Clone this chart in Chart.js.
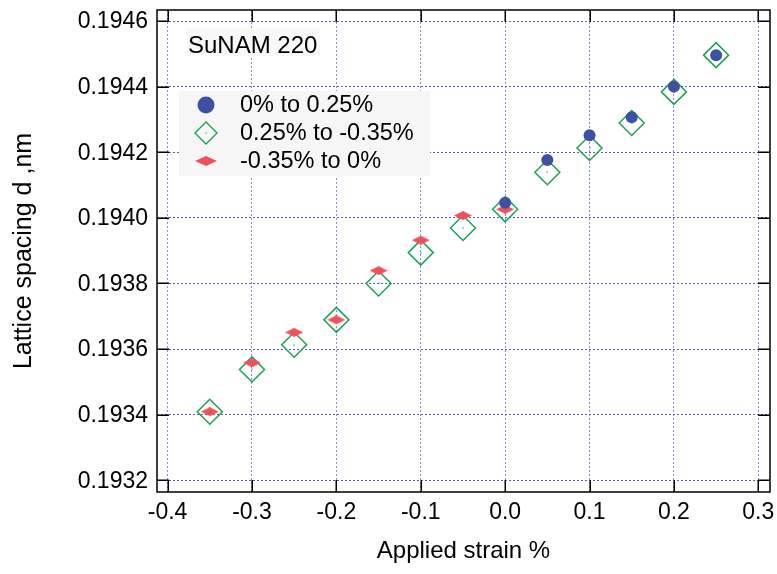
<!DOCTYPE html>
<html><head><meta charset="utf-8">
<script src="https://cdn.jsdelivr.net/npm/chart.js@4"></script>
<style>html,body{margin:0;padding:0;background:#fff}#c{display:block}</style>
</head><body>
<canvas id="c" width="777" height="574"></canvas>
<script>
// ---- data ----
const strainUp = [0, 0.05, 0.1, 0.15, 0.2, 0.25];
const spacingUp = [0.194046, 0.194176, 0.194252, 0.194307, 0.194400, 0.194496];
const strainDown = [0.25, 0.2, 0.15, 0.1, 0.05, 0, -0.05, -0.1, -0.15, -0.2, -0.25, -0.3, -0.35];
const spacingDown = [0.194496, 0.194384, 0.194289, 0.194213, 0.194139, 0.194026, 0.193969, 0.193894, 0.193800, 0.193689, 0.193613, 0.193538, 0.193409];
const strainBack = [-0.35, -0.3, -0.25, -0.2, -0.15, -0.1, -0.05, 0];
const spacingBack = [0.193409, 0.193558, 0.193651, 0.193689, 0.193839, 0.193932, 0.194007, 0.194026];
const seriesLabels = ['0% to 0.25%', '0.25% to -0.35%', '-0.35% to 0%'];
const xTicks = [-0.4, -0.3, -0.2, -0.1, 0, 0.1, 0.2, 0.3];
const xTickLabels = ['-0.4', '-0.3', '-0.2', '-0.1', '0.0', '0.1', '0.2', '0.3'];
const yTicks = [0.1932, 0.1934, 0.1936, 0.1938, 0.1940, 0.1942, 0.1944, 0.1946];
const yTickLabels = ['0.1932', '0.1934', '0.1936', '0.1938', '0.1940', '0.1942', '0.1944', '0.1946'];
const chartTitle = 'SuNAM 220';
const xTitle = 'Applied strain %';
const yTitle = 'Lattice spacing d ,nm';

const BLUE = '#3d50a2', GREEN = '#1fa055', RED = '#f04f5c';
const FONT = '"Liberation Sans", Arial, sans-serif';

function flatDiamond(w, h, color) {
  const c = document.createElement('canvas');
  c.width = w; c.height = h;
  const g = c.getContext('2d');
  g.fillStyle = color;
  g.beginPath();
  g.moveTo(0, h / 2); g.lineTo(w / 2, 0); g.lineTo(w, h / 2); g.lineTo(w / 2, h); g.closePath();
  g.fill();
  return c;
}
const redMark = flatDiamond(18, 9, RED);
const redLegend = flatDiamond(22, 10, RED);

const toPts = (xs, ys) => xs.map((x, i) => ({x: x, y: ys[i]}));

const decor = {
  id: 'decor',
  beforeDraw(chart) {
    const ctx = chart.ctx;
    ctx.save(); ctx.fillStyle = '#fff'; ctx.fillRect(0, 0, chart.width, chart.height); ctx.restore();
  },
  afterDatasetsDraw(chart) {
    const ctx = chart.ctx;
    const meta = chart.getDatasetMeta(2);
    ctx.save();
    ctx.fillStyle = GREEN;
    meta.data.forEach(p => ctx.fillRect(Math.round(p.x) - 0.5, Math.round(p.y) - 0.5, 1.2, 1.2));
    ctx.restore();
  },
  afterDraw(chart) {
    const ctx = chart.ctx, a = chart.chartArea;
    const xs = chart.scales.x, ys = chart.scales.y;
    ctx.save();
    // frame
    ctx.strokeStyle = '#000'; ctx.lineWidth = 1.5;
    ctx.strokeRect(a.left, a.top, a.right - a.left, a.bottom - a.top);
    // inward ticks
    ctx.beginPath();
    xTicks.forEach(v => {
      const px = Math.round(xs.getPixelForValue(v)) + 0.25;
      ctx.moveTo(px, a.bottom); ctx.lineTo(px, a.bottom - 12);
      ctx.moveTo(px, a.top); ctx.lineTo(px, a.top + 12);
    });
    yTicks.forEach(v => {
      const py = Math.round(ys.getPixelForValue(v)) + 0.25;
      ctx.moveTo(a.left, py); ctx.lineTo(a.left + 12, py);
      ctx.moveTo(a.right, py); ctx.lineTo(a.right - 12, py);
    });
    ctx.stroke();
    // tick labels
    ctx.fillStyle = '#000';
    ctx.font = '23px ' + FONT;
    ctx.textBaseline = 'middle';
    ctx.textAlign = 'center';
    xTicks.forEach((v, i) => ctx.fillText(xTickLabels[i], xs.getPixelForValue(v), a.bottom + 21));
    ctx.textAlign = 'right';
    yTicks.forEach((v, i) => ctx.fillText(yTickLabels[i], a.left - 9, ys.getPixelForValue(v) + 1));
    ctx.textAlign = 'left';
    // title box
    ctx.font = '24px ' + FONT;
    ctx.fillStyle = '#f8f8f8';
    ctx.fillRect(187, 28, 133, 28);
    ctx.fillStyle = '#000';
    ctx.textBaseline = 'alphabetic';
    ctx.fillText(chartTitle, 188, 53);
    // legend
    ctx.fillStyle = '#f6f6f6';
    ctx.fillRect(179, 91, 251, 85);
    ctx.font = '23.5px ' + FONT;
    ctx.fillStyle = '#000';
    ctx.textBaseline = 'middle';
    const rows = [105, 133, 161];
    rows.forEach((y, i) => ctx.fillText(seriesLabels[i], 240, y + 1));
    ctx.fillStyle = BLUE;
    ctx.beginPath(); ctx.arc(206, rows[0], 8.5, 0, Math.PI * 2); ctx.fill();
    ctx.strokeStyle = GREEN; ctx.lineWidth = 1.4;
    ctx.beginPath();
    ctx.moveTo(195, rows[1]); ctx.lineTo(206, rows[1] - 11); ctx.lineTo(217, rows[1]); ctx.lineTo(206, rows[1] + 11); ctx.closePath();
    ctx.stroke();
    ctx.fillStyle = GREEN; ctx.fillRect(205.5, rows[1] - 0.5, 1.2, 1.2);
    ctx.drawImage(redLegend, 195, rows[2] - 5);
    ctx.restore();
  }
};

new Chart(document.getElementById('c'), {
  type: 'scatter',
  data: {
    datasets: [
      {label: seriesLabels[0], data: toPts(strainUp, spacingUp), pointStyle: 'circle', pointRadius: 6,
       backgroundColor: BLUE, borderColor: BLUE, borderWidth: 0, pointHoverRadius: 6},
      {label: seriesLabels[2], data: toPts(strainBack, spacingBack), pointStyle: redMark, pointRadius: 9,
       backgroundColor: RED, borderColor: RED},
      {label: seriesLabels[1], data: toPts(strainDown, spacingDown), pointStyle: 'rectRot', pointRadius: 12.5,
       backgroundColor: 'rgba(255,255,255,0)', borderColor: GREEN, borderWidth: 1.5, pointHoverRadius: 12.5}
    ]
  },
  options: {
    responsive: false, animation: false, devicePixelRatio: 1,
    layout: {autoPadding: false, padding: {top: 10, right: 7, left: 0, bottom: 0}},
    plugins: {legend: {display: false}, tooltip: {enabled: false}},
    scales: {
      x: {
        type: 'linear', min: -0.41256, max: 0.31386,
        afterBuildTicks: s => { s.ticks = xTicks.map(v => ({value: v})); },
        afterFit: s => { s.height = 82; },
        ticks: {display: false},
        grid: {drawTicks: false, color: '#8a8ad0', lineWidth: 1},
        border: {display: false, dash: [2, 2]},
        title: {display: true, text: xTitle, color: '#000', font: {family: FONT, size: 24}, padding: {top: 0, bottom: 8}}
      },
      y: {
        type: 'linear', min: 0.1931643, max: 0.1946336,
        afterBuildTicks: s => { s.ticks = yTicks.map(v => ({value: v})); },
        afterFit: s => { s.width = 157; },
        ticks: {display: false},
        grid: {drawTicks: false, color: '#5c5cb0', lineWidth: 1},
        border: {display: false, dash: [2, 2]},
        title: {display: true, text: yTitle, color: '#000', font: {family: FONT, size: 25}, padding: {top: 9, bottom: 0}}
      }
    }
  },
  plugins: [decor]
});
</script>
</body></html>
